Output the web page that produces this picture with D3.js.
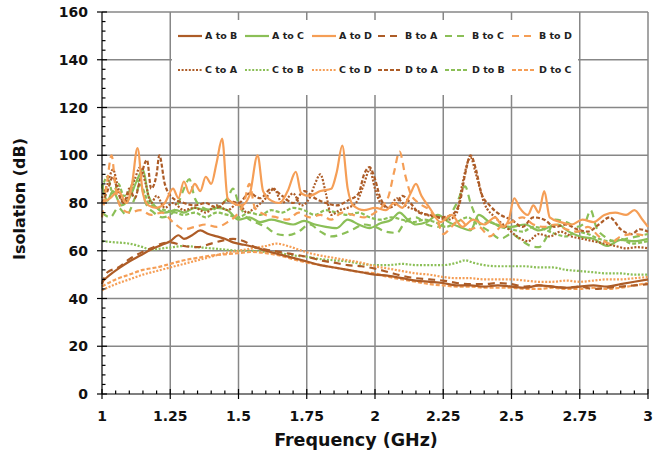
<!DOCTYPE html>
<html><head><meta charset="utf-8">
<script src="https://cdn.jsdelivr.net/npm/d3@7"></script>
<style>html,body{margin:0;padding:0;background:#fff}svg{display:block}</style>
</head><body><svg id="c" width="653" height="458"></svg>
<script>
const xTicks = [1, 1.25, 1.5, 1.75, 2, 2.25, 2.5, 2.75, 3];
const xTickLabels = ["1", "1.25", "1.5", "1.75", "2", "2.25", "2.5", "2.75", "3"];
const yTicks = [0, 20, 40, 60, 80, 100, 120, 140, 160];
const seriesNames = ["A to B","A to C","A to D","B to A","B to C","B to D","C to A","C to B","C to D","D to A","D to B","D to C"];

const AtoB = [[1.00,47],[1.03,50],[1.06,52.5],[1.10,55.5],[1.14,58],[1.18,60.5],[1.22,62.5],[1.25,64],[1.28,66.5],[1.30,65],[1.33,66.5],[1.36,68.5],[1.39,67],[1.42,66],[1.45,65],[1.48,63.5],[1.52,62.5],[1.56,61.5],[1.60,60],[1.65,58.5],[1.70,57],[1.75,55.5],[1.80,54],[1.85,53],[1.90,52],[1.95,51],[2.00,50],[2.05,49.5],[2.10,48.5],[2.15,47.5],[2.20,47],[2.25,46.5],[2.30,45.5],[2.35,45.5],[2.40,45],[2.45,45.5],[2.50,45],[2.55,44.5],[2.60,45.5],[2.65,45],[2.70,44.5],[2.75,45],[2.80,45.5],[2.85,45],[2.90,46],[2.95,47],[3.00,48]];
const BtoA = [[1.00,46],[1.02,51],[1.06,53],[1.10,56.5],[1.14,59],[1.18,61],[1.22,63],[1.25,63.5],[1.30,62],[1.35,61.5],[1.40,63],[1.45,64.5],[1.48,65],[1.52,64],[1.56,61.5],[1.60,60.5],[1.65,59.5],[1.70,58.5],[1.75,57.5],[1.80,56],[1.85,55],[1.90,54],[1.95,53.5],[2.00,52.5],[2.05,51],[2.10,49.5],[2.15,48.5],[2.20,48],[2.25,47.5],[2.30,46.5],[2.35,46],[2.40,46],[2.45,46.5],[2.50,46],[2.55,45],[2.60,45.5],[2.65,45],[2.70,44.5],[2.75,45],[2.80,44],[2.85,44.5],[2.90,45],[2.95,45.5],[3.00,46]];
const CtoB = [[1.00,64],[1.05,63.5],[1.10,63],[1.15,61.5],[1.18,60.5],[1.22,61],[1.26,61.5],[1.30,62],[1.35,61.5],[1.40,61],[1.45,60.5],[1.50,60],[1.55,60],[1.60,59.5],[1.65,59],[1.70,58],[1.75,57.5],[1.80,56.5],[1.85,56],[1.90,55.5],[1.95,54.5],[2.00,54],[2.05,54],[2.10,54.5],[2.15,54],[2.20,54],[2.25,54],[2.30,55],[2.33,56],[2.36,55],[2.40,54],[2.45,53.5],[2.50,53.5],[2.55,53.5],[2.60,53],[2.65,53],[2.70,52],[2.75,51.5],[2.80,51],[2.85,50.5],[2.90,50.5],[2.95,50],[3.00,50]];
const CtoD = [[1.00,43.5],[1.05,46],[1.10,48],[1.15,50],[1.20,51.5],[1.25,53],[1.30,54.5],[1.35,56],[1.40,57.5],[1.45,59],[1.50,60],[1.55,61],[1.60,62],[1.64,63],[1.68,62],[1.72,60.5],[1.76,59],[1.80,58],[1.85,57],[1.90,56],[1.95,55],[2.00,53.5],[2.05,52.5],[2.10,51.5],[2.15,50.5],[2.20,50],[2.25,49],[2.30,48.5],[2.35,48.5],[2.40,48],[2.45,48],[2.50,48],[2.55,47.5],[2.60,47],[2.65,47],[2.70,47.5],[2.75,47],[2.80,47.5],[2.85,48],[2.90,48],[2.95,48.5],[3.00,49]];
const DtoC = [[1.00,45],[1.05,48],[1.10,50],[1.15,52],[1.20,53],[1.25,54.5],[1.30,56],[1.35,57],[1.40,58],[1.45,58.5],[1.50,59],[1.55,59.5],[1.60,59],[1.65,58],[1.70,56.5],[1.75,55],[1.80,54],[1.85,53],[1.90,52],[1.95,51],[2.00,50.5],[2.05,49],[2.10,48],[2.15,47],[2.20,46],[2.25,45.5],[2.30,45],[2.35,45],[2.40,44.5],[2.45,44.5],[2.50,44.5],[2.55,44],[2.60,44],[2.65,44.5],[2.70,44],[2.75,44],[2.80,44.5],[2.85,44],[2.90,44.5],[2.95,45.5],[3.00,46.5]];
const AtoC = [[1.00,88],[1.02,81],[1.04,85],[1.07,79],[1.10,82],[1.13,90],[1.15,94],[1.17,83],[1.20,78],[1.23,76],[1.27,77],[1.30,76],[1.34,78],[1.38,77],[1.42,78],[1.46,77],[1.50,73],[1.54,74],[1.58,72],[1.62,73],[1.66,72],[1.70,71],[1.74,72.5],[1.78,71],[1.82,70],[1.86,69.5],[1.90,73],[1.94,71],[1.98,69.5],[2.02,71.5],[2.06,73],[2.09,76],[2.12,73],[2.15,71],[2.19,72],[2.23,75],[2.27,72],[2.31,70],[2.35,68.5],[2.38,75],[2.42,72],[2.46,70.5],[2.50,70],[2.55,71],[2.60,68.5],[2.64,70],[2.67,71],[2.71,68],[2.75,66],[2.80,65],[2.85,62],[2.90,64.5],[2.95,64],[3.00,65]];
const AtoD = [[1.00,80],[1.03,82],[1.06,85],[1.09,80],[1.11,88],[1.13,103],[1.15,84],[1.17,79],[1.20,78],[1.23,80],[1.26,86],[1.28,82],[1.30,89],[1.32,84],[1.34,88],[1.36,85],[1.38,91],[1.40,88],[1.42,97],[1.44,107],[1.46,82],[1.48,80],[1.51,79],[1.54,83],[1.57,100],[1.59,85],[1.62,81],[1.65,80],[1.68,85],[1.71,93],[1.73,84],[1.76,83],[1.80,85],[1.84,86],[1.86,93],[1.88,104],[1.90,86],[1.92,79],[1.96,77],[2.00,78],[2.04,77],[2.07,80],[2.10,78],[2.13,84],[2.15,88],[2.17,83],[2.20,78],[2.24,72],[2.28,75],[2.32,70],[2.36,73],[2.40,71],[2.44,74],[2.47,70],[2.49,73],[2.51,82],[2.53,78],[2.56,75],[2.58,79],[2.60,76],[2.62,85],[2.64,74],[2.68,72],[2.72,71],[2.76,73],[2.80,72],[2.84,75],[2.88,76],[2.92,75],[2.95,77],[2.98,73],[3.00,70]];
const BtoD = [[1.00,74],[1.02,90],[1.035,100],[1.05,86],[1.07,78],[1.10,76],[1.14,77],[1.18,75],[1.22,76],[1.26,72],[1.30,69],[1.34,70],[1.38,71],[1.42,70],[1.46,72],[1.50,76],[1.52,80],[1.54,88],[1.56,78],[1.60,75],[1.64,74],[1.68,73],[1.72,76],[1.76,74],[1.80,75],[1.84,73],[1.88,76],[1.92,75],[1.96,74],[2.00,76],[2.03,79],[2.05,83],[2.07,93],[2.09,101.5],[2.11,92],[2.13,84],[2.16,80],[2.20,77],[2.23,72],[2.25,67],[2.28,70],[2.31,73],[2.35,69],[2.38,70],[2.42,66],[2.46,70],[2.50,72],[2.54,74],[2.58,71],[2.62,70],[2.66,71],[2.70,69],[2.74,68],[2.78,70],[2.82,66],[2.86,63],[2.90,66],[2.95,67],[3.00,66]];
const CtoA = [[1.00,82],[1.02,88],[1.04,94],[1.06,86],[1.08,80],[1.10,84],[1.12,90],[1.14,95],[1.16,88],[1.18,80],[1.20,83],[1.23,78],[1.26,80],[1.30,77],[1.34,78],[1.38,76],[1.42,79],[1.46,77],[1.50,80],[1.53,76],[1.56,78],[1.60,82],[1.63,86],[1.66,80],[1.70,84],[1.73,79],[1.76,82],[1.78,88],[1.80,92],[1.82,84],[1.84,75],[1.87,77],[1.90,78],[1.93,80],[1.96,88],[1.98,94],[2.00,86],[2.02,80],[2.05,78],[2.08,82],[2.11,79],[2.15,77],[2.19,75],[2.23,74],[2.27,73],[2.30,76],[2.32,88],[2.35,99],[2.37,92],[2.40,80],[2.44,74],[2.48,70],[2.52,66],[2.56,64],[2.60,67],[2.64,66],[2.68,68],[2.72,66],[2.76,65],[2.80,64],[2.84,63],[2.88,62],[2.92,61],[2.96,61.5],[3.00,61]];
const DtoA = [[1.00,80],[1.02,85],[1.04,91],[1.06,84],[1.08,80],[1.10,86],[1.12,82],[1.14,90],[1.165,98],[1.18,86],[1.20,92],[1.21,100],[1.23,88],[1.26,82],[1.30,80],[1.34,79],[1.38,80],[1.42,78],[1.46,81],[1.50,80],[1.54,84],[1.58,82],[1.62,86],[1.66,83],[1.70,80],[1.74,85],[1.78,82],[1.82,80],[1.86,79],[1.90,81],[1.94,84],[1.96,92],[1.98,95],[2.00,90],[2.02,82],[2.05,78],[2.08,80],[2.10,83],[2.13,80],[2.16,76],[2.20,75],[2.24,74],[2.28,75],[2.31,80],[2.33,92],[2.35,100],[2.37,94],[2.39,84],[2.42,79],[2.46,75],[2.50,73],[2.54,70],[2.58,74],[2.62,73],[2.66,70],[2.70,71],[2.74,69],[2.78,68],[2.82,71],[2.86,74],[2.90,69],[2.94,67],[2.97,69],[3.00,68]];
const BtoC = [[1.00,76],[1.03,74],[1.06,78],[1.09,75],[1.12,82],[1.14,88],[1.16,80],[1.19,76],[1.22,74],[1.25,75],[1.28,80],[1.30,86],[1.32,90],[1.34,82],[1.37,78],[1.40,77],[1.43,79],[1.46,82],[1.48,86],[1.50,80],[1.53,74],[1.56,72],[1.60,70],[1.64,67],[1.68,66.5],[1.72,68],[1.76,71],[1.80,68],[1.84,66],[1.88,67],[1.92,69],[1.96,71],[2.00,70],[2.04,68],[2.08,67.5],[2.11,72],[2.15,74],[2.19,71],[2.23,70],[2.27,74],[2.30,80],[2.33,87],[2.35,80],[2.38,72],[2.42,68],[2.46,65],[2.50,67],[2.54,64],[2.57,62],[2.60,61.5],[2.63,66],[2.66,73],[2.70,72],[2.74,70],[2.77,72],[2.79,77],[2.81,70],[2.84,66],[2.88,64],[2.92,65],[2.96,66],[3.00,67]];
const DtoB = [[1.00,86],[1.02,91],[1.04,84],[1.06,88],[1.08,83],[1.10,85],[1.12,90],[1.15,86],[1.17,80],[1.20,78],[1.23,77],[1.27,76],[1.30,75],[1.34,76],[1.38,74],[1.42,76],[1.46,75],[1.50,74],[1.54,76],[1.58,75],[1.62,77],[1.66,76],[1.70,78],[1.74,77],[1.78,75],[1.82,77],[1.86,76],[1.90,75],[1.94,76],[1.98,74],[2.02,73],[2.06,74],[2.10,73],[2.14,72],[2.18,73],[2.22,72],[2.26,70],[2.30,72],[2.34,74],[2.38,71],[2.42,72],[2.46,70],[2.50,69],[2.54,68],[2.58,70],[2.62,69],[2.66,67],[2.70,66],[2.74,68],[2.78,67],[2.82,65],[2.86,64],[2.90,65],[2.94,63],[3.00,64]];

const BROWN = "#AD5C27", GREEN = "#8BBF57", ORANGE = "#F59E56";
const seriesData = [AtoB, AtoC, AtoD, BtoA, BtoC, BtoD, CtoA, CtoB, CtoD, DtoA, DtoB, DtoC];
const seriesColors = [BROWN, GREEN, ORANGE, BROWN, GREEN, ORANGE, BROWN, GREEN, ORANGE, BROWN, GREEN, ORANGE];
const DASH_SOLID = null, DASH_LONG = "7,5", DASH_DOT = "2,1.6", DASH_SHORT = "4,2";
const seriesDash = [DASH_SOLID, DASH_SOLID, DASH_SOLID, DASH_LONG, DASH_LONG, DASH_LONG, DASH_DOT, DASH_DOT, DASH_DOT, DASH_SHORT, DASH_SHORT, DASH_SHORT];

const svg = d3.select("#c");
const L = 102, R = 648, T = 12, B = 394;
const x = d3.scaleLinear().domain([1, 3]).range([L, R]);
const y = d3.scaleLinear().domain([0, 160]).range([B, T]);
const font = "'DejaVu Sans', Verdana, sans-serif";

// gridlines
const grid = svg.append("g").attr("stroke", "#878787").attr("stroke-width", 1.5);
yTicks.filter(v => v > 0).forEach(v => grid.append("line").attr("x1", L).attr("x2", R).attr("y1", y(v)).attr("y2", y(v)));
xTicks.filter(v => v > 1).forEach(v => grid.append("line").attr("x1", x(v)).attr("x2", x(v)).attr("y1", T).attr("y2", B));

// legend background
svg.append("rect").attr("x", 172).attr("y", 20).attr("width", 406).attr("height", 75).attr("fill", "#fff");

// series
const line = d3.line().x(d => x(d[0])).y(d => y(d[1])).curve(d3.curveMonotoneX);
const order = [7, 8, 11, 0, 3, 1, 4, 10, 6, 9, 5, 2];
order.forEach(i => {
  svg.append("path").datum(seriesData[i]).attr("d", line)
    .attr("fill", "none").attr("stroke", seriesColors[i]).attr("stroke-width", 2.2)
    .attr("stroke-dasharray", seriesDash[i]).attr("stroke-linejoin", "round");
});

// axes
const yMinor = d3.range(0, 161, 4).filter(v => v % 20 !== 0);
const xMinor = d3.range(0, 41).map(k => 1 + k * 0.05).filter(v => Math.abs(v * 4 - Math.round(v * 4)) > 1e-6);
const ax = svg.append("g").attr("stroke", "#000").attr("stroke-width", 1.2);
ax.append("line").attr("x1", L).attr("x2", L).attr("y1", T).attr("y2", B);
ax.append("line").attr("x1", L).attr("x2", R).attr("y1", B).attr("y2", B);
yTicks.forEach(v => ax.append("line").attr("x1", L - 5).attr("x2", L + 5).attr("y1", y(v)).attr("y2", y(v)));
yMinor.forEach(v => ax.append("line").attr("x1", L).attr("x2", L + 3.5).attr("y1", y(v)).attr("y2", y(v)));
xTicks.forEach(v => ax.append("line").attr("x1", x(v)).attr("x2", x(v)).attr("y1", B - 5).attr("y2", B + 5));
xMinor.forEach(v => ax.append("line").attr("x1", x(v)).attr("x2", x(v)).attr("y1", B - 3.5).attr("y2", B));

svg.append("g").selectAll("text").data(yTicks).join("text")
  .attr("x", 88).attr("y", d => y(d)).attr("dy", "0.36em").attr("text-anchor", "end")
  .attr("font-family", font).attr("font-weight", "bold").attr("font-size", 14).attr("fill", "#111")
  .text(d => d);
svg.append("g").selectAll("text").data(xTicks).join("text")
  .attr("x", d => x(d)).attr("y", 421).attr("text-anchor", "middle")
  .attr("font-family", font).attr("font-weight", "bold").attr("font-size", 14).attr("fill", "#111")
  .text((d, i) => xTickLabels[i]);

svg.append("text").attr("x", 356).attr("y", 446).attr("text-anchor", "middle")
  .attr("font-family", font).attr("font-weight", "bold").attr("font-size", 17.5).attr("fill", "#111")
  .text("Frequency (GHz)");
svg.append("text").attr("transform", "translate(25,199) rotate(-90)").attr("text-anchor", "middle")
  .attr("font-family", font).attr("font-weight", "bold").attr("font-size", 16).attr("fill", "#111")
  .text("Isolation (dB)");

// legend
const legX = [178, 245, 312, 378, 445, 512], legY = [36, 70];
seriesNames.forEach((name, i) => {
  const cx = legX[i % 6], cy = legY[Math.floor(i / 6)];
  const g = svg.append("g");
  g.append("line").attr("x1", cx).attr("x2", cx + 24).attr("y1", cy).attr("y2", cy)
    .attr("stroke", seriesColors[i]).attr("stroke-width", 2.2).attr("stroke-dasharray", seriesDash[i]);
  g.append("text").attr("x", cx + 27).attr("y", cy).attr("dy", "0.35em")
    .attr("font-family", font).attr("font-weight", "bold").attr("font-size", 9.5).attr("fill", "#222")
    .text(name);
});
</script></body></html>
